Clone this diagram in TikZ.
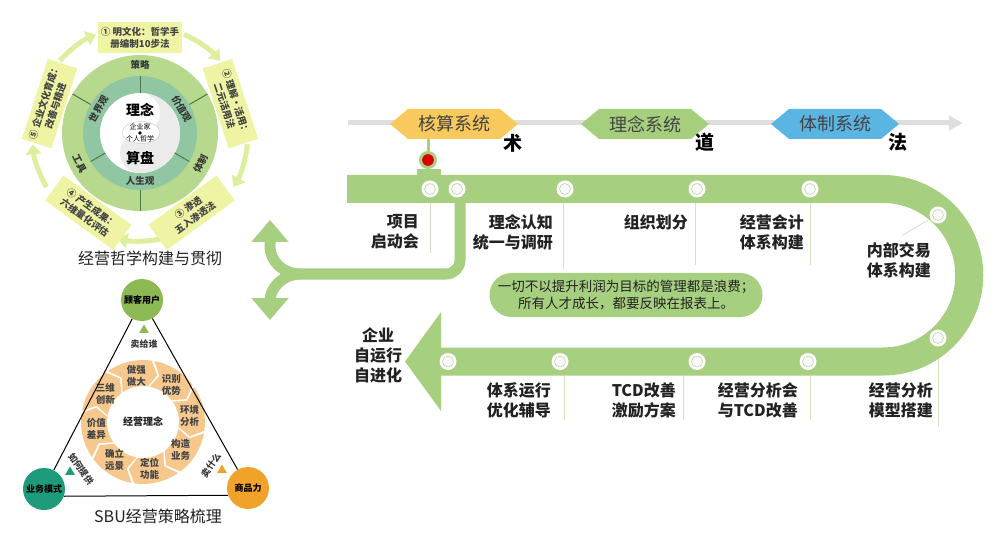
\documentclass[tikz,border=0pt]{standalone}
\usepackage{fontspec}
\setmainfont{Noto Sans CJK SC}
\usepackage{xcolor}
\usetikzlibrary{arrows.meta,calc,shapes.geometric}
\definecolor{trackgreen}{HTML}{A7CF80}
\definecolor{hsorange}{HTML}{F8C95C}
\definecolor{lngreen}{HTML}{A6CF7D}
\definecolor{tzblue}{HTML}{5BB5E2}
\definecolor{outerring}{HTML}{B6D98D}
\definecolor{midring}{HTML}{90C6A2}
\definecolor{yygray}{HTML}{EBEBEB}
\definecolor{yybox}{HTML}{EEF4A3}
\definecolor{yyarrow}{HTML}{DDEE9C}
\definecolor{segorange}{HTML}{F6C88D}
\definecolor{custgreen}{HTML}{8DB955}
\definecolor{bizteal}{HTML}{1D9B7B}
\definecolor{prodorange}{HTML}{F0A22B}
\definecolor{bannergray}{HTML}{DEDEDE}
\definecolor{thinline}{HTML}{D3E2C4}
\definecolor{divgreen}{HTML}{4D7A45}
\definecolor{txt}{HTML}{222222}
\newcommand\fsz[2]{\fontsize{#1}{#2}\selectfont}

\begin{document}
\begin{tikzpicture}[x=1pt,y=1pt,
  tracklbl/.style={font=\bfseries\fsz{16}{20},text=txt,align=right,anchor=east,inner sep=0},
  hexlbl/.style={font=\fsz{18}{20},text=txt!85,inner sep=0},
  dirlbl/.style={font=\bfseries\fsz{19}{20},inner sep=0},
  station/.style={circle,fill=white,minimum size=17pt,inner sep=0,
    path picture={\draw[draw=thinline!80!gray,fill=white!92!trackgreen,line width=.6pt] (path picture bounding box.center) circle[radius=5.5];}},
  thinln/.style={draw=thinline,line width=.8pt},
  fork/.style={draw=trackgreen,line width=11pt,-{Triangle[width=36pt,length=22pt]}},
  ybox/.style={fill=yybox,minimum width=84pt,minimum height=31pt,inner sep=1pt,align=center,font=\bfseries\fsz{9.5}{12},text=txt!85},
  carrow/.style={draw=yyarrow,line width=5pt,-{Triangle[width=15pt,length=10pt]}},
  divln/.style={draw=divgreen,line width=1pt},
  ringlbl/.style={font=\bfseries\fsz{9.5}{11},text=txt!90,inner sep=0},
  sbu/.style={circle,minimum size=42pt,inner sep=0,font=\bfseries\fsz{9}{11},text=black},
  tmarker/.style={regular polygon,regular polygon sides=3,minimum size=11pt,inner sep=0},
  smlbl/.style={font=\bfseries\fsz{9}{11},text=txt!90,inner sep=0},
  seglbl/.style={font=\bfseries\fsz{9.5}{12},text=txt!85,align=center,inner sep=0}]
\path[use as bounding box] (0,0) rectangle (1000,544);

\draw[bannergray,line width=5pt,-{Triangle[width=14pt,length=14pt]}] (348,421) -- (963,421);
\foreach \cx/\col/\nm/\lbl in {454/hsorange/hexhs/核算系统,645/lngreen/hexln/理念系统,835/tzblue/hextz/体制系统}{
  \fill[\col] (\cx-64,420) -- (\cx-46,435) -- (\cx+46,435) -- (\cx+64,420) -- (\cx+46,405) -- (\cx-46,405) -- cycle;
  \node[hexlbl] (\nm) at (\cx,420) {\lbl};
}
\node[dirlbl] (shu) at (513,401) {术};
\node[dirlbl] (dao) at (705,402) {道};
\node[dirlbl] (fa) at (898,402) {法};

\foreach \x/\ya/\yb in {430/341/291,563/341/274,695/341/279,810/341/279,564/168/124,683/168/124,810/168/124,938/200/118}
  \draw[thinln] (\x,\ya) -- (\x,\yb);
\draw[thinln] (928,324) -- (903,309);

\draw[trackgreen,line width=28pt] (347,355) -- (883,355) arc[start angle=90,end angle=-90,radius=86.25] -- (438,182.5);
\fill[trackgreen] (441,232) -- (405,182.5) -- (441,133) -- cycle;
\draw[fork] (460,342) -- (460,284) arc[start angle=0,end angle=-90,radius=14] -- (300,270) to[out=180,in=-90] (270,298) -- (270,324);
\draw[fork] (301,270) to[out=180,in=90] (270,242) -- (270,224);

\fill[trackgreen] (417,368) rectangle (441,375);
\node[circle,fill=red!85!black,draw=trackgreen,line width=3pt,minimum size=15pt,inner sep=0] (sig) at (428,384) {};
\draw[trackgreen,line width=3pt] (428,405) -- (sig);

\foreach \x/\y [count=\i] in {430/355,457/355,565/355,697/355,810/355,938/329,938/206,808/182.5,697/182.5,560/182.5,448/182.5}
  \node[station] (st\i) at (\x,\y) {};

\node[tracklbl] (l1) at (419,312) {项目\\启动会};
\node[tracklbl] (l2) at (553,312) {理念认知\\统一与调研};
\node[tracklbl] (l3) at (688,322) {组织划分};
\node[tracklbl] (l4) at (804,312) {经营会计\\体系构建};
\node[tracklbl] (l5) at (931,284) {内部交易\\体系构建};
\node[tracklbl] (l6) at (933,144) {经营分析\\模型搭建};
\node[tracklbl] (l7) at (798,144) {经营分析会\\与TCD改善};
\node[tracklbl] (l8) at (676,144) {TCD改善\\激励方案};
\node[tracklbl] (l9) at (551,144) {体系运行\\优化辅导};
\node[tracklbl,anchor=center,align=center] (l10) at (378,189) {企业\\自运行\\自进化};

\node[fill=trackgreen,rounded corners=22pt,minimum width=273pt,minimum height=44pt,inner sep=0,align=center,font=\fsz{13.5}{17},text=txt] (quote) at (626,249) {一切不以提升利润为目标的管理都是浪费；\\所有人才成长，都要反映在报表上。};

\coordinate (c1) at (140,411);
\foreach \ang in {138,66,-6,-78,210}
  \draw[carrow] ([shift={(\ang:108)}]c1) arc[start angle=\ang,end angle=\ang-24,radius=108];
\fill[outerring] (c1) circle[radius=78];
\fill[midring] (c1) circle[radius=57];
\fill[white] (c1) circle[radius=40];
\fill[yygray] ([shift={(90:40)}]c1) arc[start angle=90,end angle=-90,radius=40] arc[start angle=-90,end angle=-270,radius=20] arc[start angle=-90,end angle=90,radius=20] -- cycle;
\foreach \ang in {150,30,270}
  \draw[divln] ([shift={(\ang:57)}]c1) -- ([shift={(\ang:78)}]c1);
\foreach \ang in {90,210,330}
  \draw[divln] ([shift={(\ang:40)}]c1) -- ([shift={(\ang:57)}]c1);
\node[ringlbl] (cel) at ([shift={(90:68)}]c1) {策略};
\node[ringlbl,rotate=-63] (gongju) at ([shift={(207:68)}]c1) {工具};
\node[ringlbl,rotate=63] (tizhi) at ([shift={(-27:68)}]c1) {体制};
\node[ringlbl,rotate=60] (sjg) at ([shift={(150:48)}]c1) {世界观};
\node[ringlbl,rotate=-60] (jzg) at ([shift={(30:48)}]c1) {价值观};
\node[ringlbl] (rsg) at ([shift={(270:48)}]c1) {人生观};
\node[font=\bfseries\fsz{14}{16},inner sep=0] (linian) at (140,434) {理念};
\node[font=\bfseries\fsz{14}{16},inner sep=0] (suanpan) at (140,386) {算盘};
\draw[fill=white,draw=gray!40,line width=.5pt] (141,411.5) ellipse[x radius=19,y radius=11];
\node[font=\fsz{7}{8},inner sep=0] (qyj) at (140,417.5) {企业家};
\node[font=\fsz{7}{8},inner sep=0] (grzx) at (140,405) {个人哲学};
\fill (140,411) circle[radius=1.8];

\node[ybox] (yb1) at ([shift={(90:95)}]c1) {① 明文化：哲学手\\册编制10步法};
\node[ybox,rotate=-72] (yb2) at ([shift={(18:95)}]c1) {② 理解·活用：\\二元活用法};
\node[ybox,rotate=36] (yb3) at ([shift={(-57:95)}]c1) {③ 渗透\\五入渗透法};
\node[ybox,rotate=-36] (yb4) at ([shift={(-123:95)}]c1) {④ 产生成果：\\六维量化评估};
\node[ybox,rotate=72] (yb5) at ([shift={(162:95)}]c1) {⑤ 企业文化育成：\\改善与精进};
\node[font=\fsz{16}{18},text=txt,inner sep=0] (title1) at (150,286) {经营哲学构建与贯彻};

\coordinate (rc) at (143,122);
\foreach \ang/\lbl [count=\i] in {102/做强\\做大,57/识别\\优势,12/环境\\分析,-33/构造\\业务,-78/定位\\功能,-123/确立\\远景,-168/价值\\差异,147/三维\\创新}{
  \pgfmathsetmacro\ta{\ang+22.5}
  \pgfmathsetmacro\tb{\ang-20}
  \pgfmathsetmacro\tc{\ang-29}
  \pgfmathsetmacro\td{\ang+13.5}
  \fill[segorange] ([shift={(\ta:62)}]rc) arc[start angle=\ta,end angle=\tb,radius=62] -- ([shift={(\tc:49)}]rc) -- ([shift={(\tb:36)}]rc) arc[start angle=\tb,end angle=\ta,radius=36] -- ([shift={(\td:49)}]rc) -- cycle;
  \node[seglbl] (seg\i) at ([shift={(\ang-4:47)}]rc) {\lbl};
}
\node[font=\bfseries\fsz{10}{12},text=txt,inner sep=0] (jyln) at (rc) {经营理念};

\node[sbu,fill=custgreen] (gkyh) at (142,244) {顾客用户};
\node[sbu,fill=bizteal] (ywms) at (44,55) {业务模式};
\node[sbu,fill=prodorange] (spl) at (248,56) {商品力};
\draw[line width=1pt] (gkyh) -- (ywms);
\draw[line width=1pt] (gkyh) -- (spl);
\draw[line width=1pt] (ywms.-20) -- (spl.200);
\node[tmarker,fill=custgreen] (mk1) at (144,214) {};
\node[tmarker,fill=bizteal] (mk2) at (70,72) {};
\node[tmarker,fill=prodorange] (mk3) at (222,74) {};
\node[smlbl] (mgs) at (144,200) {卖给谁};
\node[smlbl,rotate=-55] (rhtg) at (81,75) {如何提供};
\node[smlbl,rotate=55] (msm) at (211,79) {卖什么};
\node[font=\fsz{16}{18},text=txt,inner sep=0] (title2) at (158,28) {SBU经营策略梳理};
\end{tikzpicture}
\end{document}
